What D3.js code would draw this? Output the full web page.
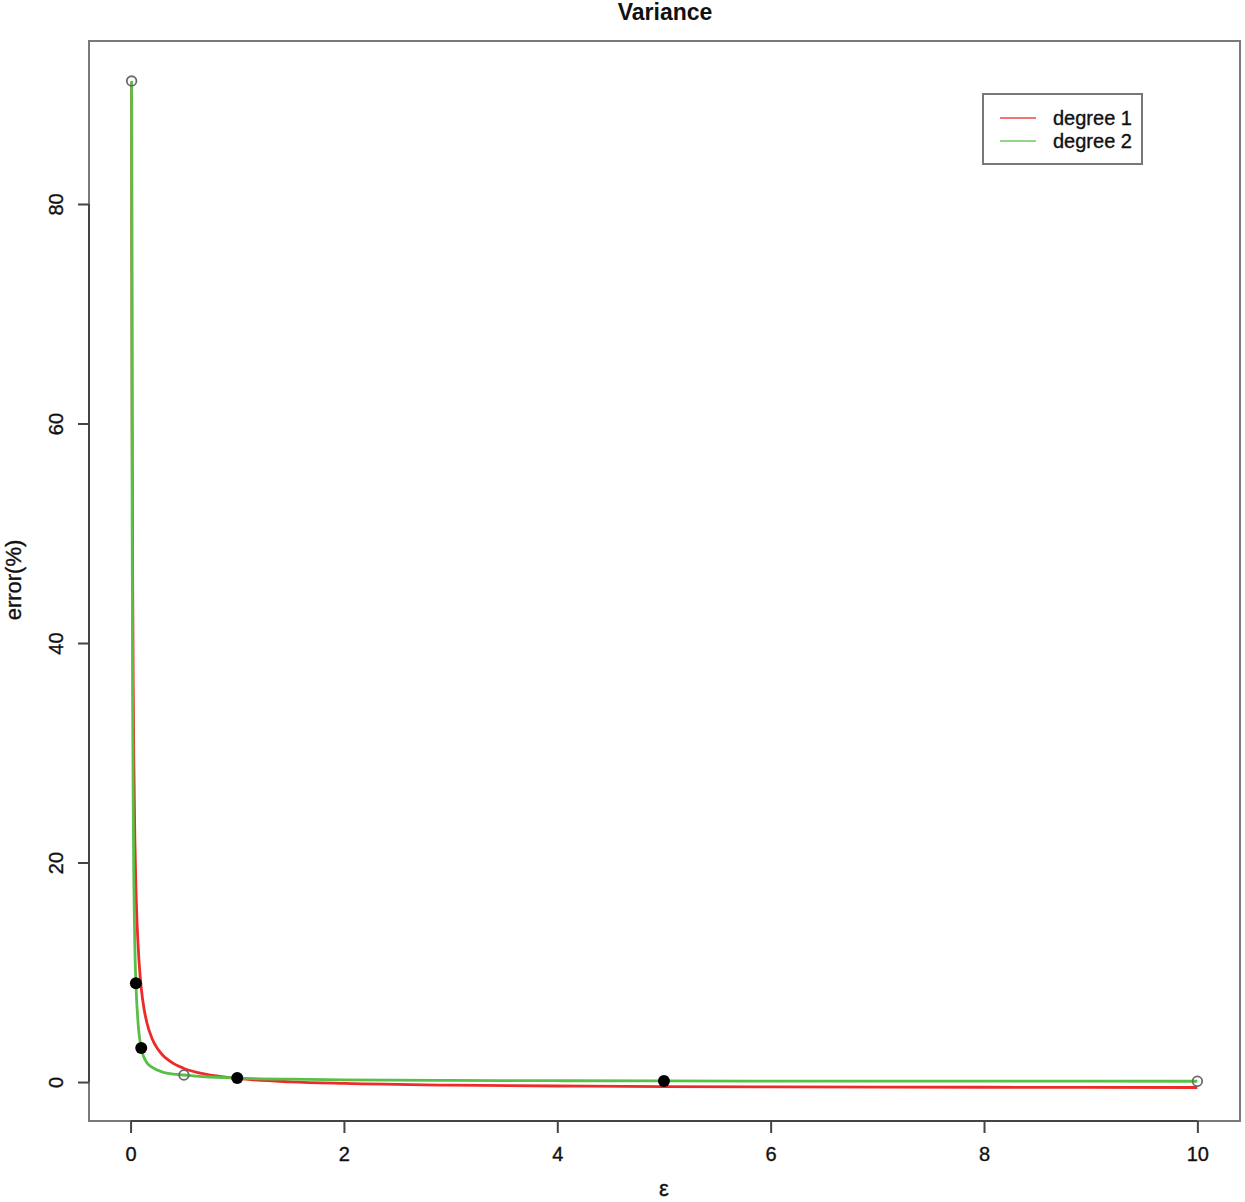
<!DOCTYPE html>
<html>
<head>
<meta charset="utf-8">
<script src="https://cdn.jsdelivr.net/npm/d3@7"></script>
<style>
  html, body { margin: 0; padding: 0; background: #ffffff; }
  svg { display: block; font-family: "Liberation Sans", Arial, sans-serif; }
  .txt { stroke: #111; stroke-width: 0.35px; }
</style>
</head>
<body>
<svg id="chart" width="1245" height="1202"></svg>
<script>
// ---- data ----
const titleText = "Variance";
const xLabelText = "ε";
const yLabelText = "error(%)";
const xTicks = [0, 2, 4, 6, 8, 10];
const yTicks = [0, 20, 40, 60, 80];
const seriesNames = ["degree 1", "degree 2"];

// degree 1 fitted curve (red)
const epsDeg1 = [0.01, 0.012, 0.015, 0.02, 0.025, 0.03, 0.04, 0.05, 0.06, 0.08, 0.1, 0.125, 0.15, 0.2, 0.25, 0.3, 0.4, 0.5, 0.7, 1, 1.5, 2, 3, 4, 5, 6, 8, 10];
const errDeg1 = [91.0, 75.7, 60.5, 45.2, 36.05, 29.9, 22.3, 17.7, 14.7, 10.9, 8.57, 6.74, 5.52, 3.99, 3.07, 2.46, 1.70, 1.24, 0.72, 0.33, 0.02, -0.13, -0.285, -0.36, -0.41, -0.44, -0.475, -0.50];

// degree 2 fitted curve (green)
const epsDeg2 = [0.01, 0.012, 0.015, 0.02, 0.025, 0.03, 0.04, 0.05, 0.07, 0.1, 0.15, 0.2, 0.3, 0.4, 0.5, 0.7, 1, 1.5, 2, 3, 4, 5, 6, 8, 10];
const errDeg2 = [91.2, 70.5, 50.9, 33.6, 25.0, 18.8, 12.4, 9.0, 5.43, 3.1, 1.8, 1.35, 0.9, 0.72, 0.64, 0.48, 0.36, 0.26, 0.2, 0.15, 0.12, 0.1, 0.09, 0.08, 0.07];

// observed points
const openEps = [0.01, 0.5, 10];
const openErr = [91.2, 0.64, 0.07];
const filledEps = [0.05, 0.1, 1, 5];
const filledErr = [9.0, 3.1, 0.36, 0.09];

// ---- drawing ----
const svg = d3.select("#chart");
const plot = { left: 89, right: 1240, top: 41, bottom: 1121 };

const x = d3.scaleLinear().domain([-0.3896, 10.3996]).range([plot.left, plot.right]);
const y = d3.scaleLinear().domain([-3.55, 94.85]).range([plot.bottom, plot.top]);

const redCol = "#ee2a2a";
const greenCol = "#58c046";

// plot frame
svg.append("rect")
  .attr("x", plot.left).attr("y", plot.top)
  .attr("width", plot.right - plot.left).attr("height", plot.bottom - plot.top)
  .attr("fill", "none").attr("stroke", "#7a7a7a").attr("stroke-width", 2);

// x axis
const xAxis = d3.axisBottom(x).tickValues(xTicks).tickSize(12).tickPadding(14).tickFormat(d3.format("d"));
const gx = svg.append("g").attr("transform", `translate(0,${plot.bottom})`).call(xAxis);
gx.select(".domain").attr("d", `M${x(xTicks[0])},0H${x(xTicks[xTicks.length - 1])}`)
  .attr("stroke", "#444").attr("stroke-width", 2);
gx.selectAll(".tick line").attr("stroke", "#444").attr("stroke-width", 2);
gx.selectAll(".tick text").attr("font-size", 20).attr("fill", "#111").attr("class", "txt")
  .attr("font-family", "'Liberation Sans', Arial, sans-serif");

// y axis
const yAxis = d3.axisLeft(y).tickValues(yTicks).tickSize(11).tickPadding(0).tickFormat(d3.format("d"));
const gy = svg.append("g").attr("transform", `translate(${plot.left},0)`).call(yAxis);
gy.select(".domain").attr("d", `M0,${y(yTicks[0])}V${y(yTicks[yTicks.length - 1])}`)
  .attr("stroke", "#444").attr("stroke-width", 2);
gy.selectAll(".tick line").attr("stroke", "#444").attr("stroke-width", 2);
gy.selectAll(".tick text")
  .attr("font-size", 20).attr("fill", "#111").attr("class", "txt")
  .attr("font-family", "'Liberation Sans', Arial, sans-serif")
  .attr("x", null).attr("dy", null)
  .attr("text-anchor", "middle")
  .attr("transform", "translate(-26,0) rotate(-90)");

// curves
const line = d3.line().x(d => x(d[0])).y(d => y(d[1])).curve(d3.curveMonotoneX);
const red = epsDeg1.map((e, i) => [e, errDeg1[i]]);
const green = epsDeg2.map((e, i) => [e, errDeg2[i]]);

svg.append("path").datum(red).attr("d", line)
  .attr("fill", "none").attr("stroke", redCol).attr("stroke-width", 2.8);
svg.append("path").datum(green).attr("d", line)
  .attr("fill", "none").attr("stroke", greenCol).attr("stroke-width", 2.8);

// points
svg.append("g").selectAll("circle").data(openEps.map((e, i) => [e, openErr[i]]))
  .join("circle")
  .attr("cx", d => x(d[0])).attr("cy", d => y(d[1])).attr("r", 4.8)
  .attr("fill", "none").attr("stroke", "#6a6a6a").attr("stroke-width", 1.8);
svg.append("g").selectAll("circle").data(filledEps.map((e, i) => [e, filledErr[i]]))
  .join("circle")
  .attr("cx", d => x(d[0])).attr("cy", d => y(d[1])).attr("r", 6)
  .attr("fill", "#000");

// title & labels
svg.append("text").attr("x", 665).attr("y", 20).attr("text-anchor", "middle")
  .attr("font-size", 23).attr("font-weight", "bold").attr("fill", "#111").text(titleText);
svg.append("text").attr("x", 664).attr("y", 1196).attr("text-anchor", "middle").attr("class", "txt")
  .attr("font-size", 22).attr("fill", "#111").text(xLabelText);
svg.append("text").attr("transform", "translate(21,580) rotate(-90)").attr("text-anchor", "middle")
  .attr("class", "txt").attr("font-size", 22).attr("fill", "#111").text(yLabelText);

// legend
const lg = svg.append("g");
lg.append("rect").attr("x", 983).attr("y", 94).attr("width", 159).attr("height", 70)
  .attr("fill", "#fff").attr("stroke", "#777").attr("stroke-width", 2);
const legCols = [redCol, greenCol];
seriesNames.forEach((name, i) => {
  const yy = 118 + i * 23;
  lg.append("line").attr("x1", 1000).attr("x2", 1036).attr("y1", yy).attr("y2", yy)
    .attr("stroke", legCols[i]).attr("stroke-width", 2).attr("stroke-opacity", 0.65);
  lg.append("text").attr("x", 1053).attr("y", yy + 7).attr("font-size", 20).attr("class", "txt")
    .attr("fill", "#111").text(name);
});
</script>
</body>
</html>
